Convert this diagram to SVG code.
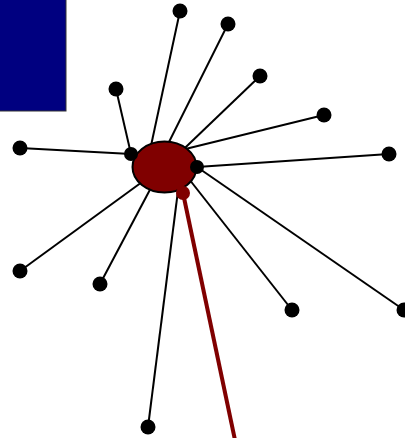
<svg xmlns="http://www.w3.org/2000/svg" width="405" height="438" viewBox="0 0 405 438">
<style>
.edge{stroke:#000;stroke-width:2;fill:none}
.dot{fill:#000}
.hub{fill:#800000;stroke:#000;stroke-width:2}
.red{stroke:#800000;stroke-width:4;fill:none}
.reddot{fill:#800000}
</style>
<rect x="-2" y="-2" width="68" height="113" fill="#000080" stroke="#333" stroke-width="1"/>
<g id="connectors">
<line class="edge" x1="180" y1="11" x2="149" y2="155"/>
<line class="edge" x1="228" y1="24" x2="158" y2="164"/>
<line class="edge" x1="260" y1="76" x2="165" y2="167"/>
<line class="edge" x1="324" y1="115" x2="165" y2="154"/>
<line class="edge" x1="389" y1="154" x2="197" y2="167"/>
<line class="edge" x1="404" y1="310" x2="197" y2="167"/>
<line class="edge" x1="292" y1="310" x2="178" y2="165"/>
<line class="edge" x1="148" y1="427" x2="181" y2="167"/>
<line class="edge" x1="100" y1="284" x2="162" y2="167"/>
<line class="edge" x1="20" y1="271" x2="164" y2="166"/>
<line class="edge" x1="20" y1="148" x2="131" y2="154"/>
<line class="edge" x1="116" y1="89" x2="131" y2="154"/>
<line class="red" x1="183" y1="193" x2="235" y2="440"/>
</g>
<g id="n1"><circle class="dot" cx="180" cy="11" r="7.5"/></g>
<g id="n2"><circle class="dot" cx="228" cy="24" r="7.5"/></g>
<g id="n3"><circle class="dot" cx="260" cy="76" r="7.5"/></g>
<g id="n4"><circle class="dot" cx="324" cy="115" r="7.5"/></g>
<g id="n5"><circle class="dot" cx="389" cy="154" r="7.5"/></g>
<g id="n6"><circle class="dot" cx="404" cy="310" r="7.5"/></g>
<g id="n7"><circle class="dot" cx="292" cy="310" r="7.5"/></g>
<g id="n8"><circle class="dot" cx="148" cy="427" r="7.5"/></g>
<g id="n9"><circle class="dot" cx="100" cy="284" r="7.5"/></g>
<g id="n10"><circle class="dot" cx="20" cy="271" r="7.5"/></g>
<g id="n11"><circle class="dot" cx="20" cy="148" r="7.5"/></g>
<g id="n12"><circle class="dot" cx="116" cy="89" r="7.5"/></g>
<g id="hub"><ellipse class="hub" cx="164.5" cy="167" rx="32" ry="25.5"/></g>
<g id="portL"><circle class="dot" cx="131" cy="154" r="7"/></g>
<g id="portR"><circle class="dot" cx="197" cy="167" r="7"/></g>
<g id="portRed"><circle class="reddot" cx="183" cy="193" r="7"/></g>
</svg>
